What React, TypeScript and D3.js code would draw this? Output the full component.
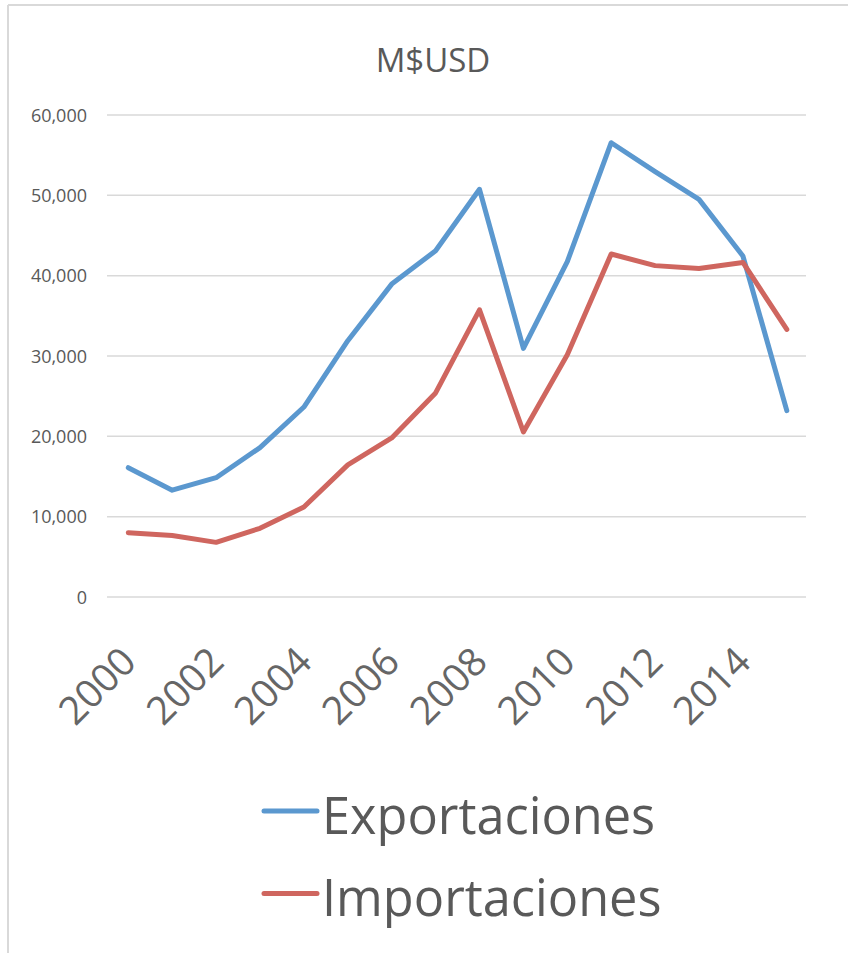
import React from 'react';
import { scaleLinear, scalePoint, line as d3Line, format } from 'd3';

const years = [2000, 2001, 2002, 2003, 2004, 2005, 2006, 2007, 2008, 2009, 2010, 2011, 2012, 2013, 2014, 2015];
const exportaciones = [16100, 13300, 14850, 18600, 23650, 31900, 38950, 43100, 50750, 30950, 41750, 56550, 52950, 49500, 42450, 23200];
const importaciones = [8000, 7650, 6800, 8550, 11200, 16450, 19800, 25400, 35750, 20550, 30150, 42700, 41250, 40900, 41650, 33300];
const yTicks = [0, 10000, 20000, 30000, 40000, 50000, 60000];
const xLabels = [2000, 2002, 2004, 2006, 2008, 2010, 2012, 2014];

const series = [
  { name: 'Exportaciones', values: exportaciones, color: '#5B98CF' },
  { name: 'Importaciones', values: importaciones, color: '#CF665F' },
];

const W = 848;
const H = 953;
const FONT = '"Open Sans", sans-serif';
const TEXT = '#595959';
const GRID = '#d9d9d9';

export default function App() {
  const x = scalePoint<number>().domain(years).range([128.3, 786.8]);
  const y = scaleLinear().domain([0, 60000]).range([597, 115]);
  const fmt = format(',');

  const path = (vals: number[]) =>
    d3Line<number>()
      .x((_, i) => x(years[i])!)
      .y(d => y(d))(vals) || '';

  return (
    <div style={{ position: 'fixed', left: 0, top: 0, width: W, height: H }}>
      <svg width={W} height={H} style={{ display: 'block', background: '#fff' }}>
        {/* chart frame */}
        <line x1={8} x2={W} y1={5} y2={5} stroke={GRID} strokeWidth={2} />
        <line x1={8} x2={8} y1={5} y2={H} stroke={GRID} strokeWidth={2} />

        <text x={433} y={72} textAnchor="middle" fontFamily={FONT} fontSize={33} fill={TEXT}>
          M$USD
        </text>

        {yTicks.map(t => (
          <g key={t}>
            <line x1={107} x2={806} y1={y(t)} y2={y(t)} stroke={GRID} strokeWidth={1.5} />
            <text
              x={87}
              y={y(t) + 6.5}
              textAnchor="end"
              fontFamily={FONT}
              fontSize={18}
              fill={TEXT}
            >
              {fmt(t)}
            </text>
          </g>
        ))}

        {xLabels.map(yr => (
          <text
            key={yr}
            transform={`translate(${x(yr)! + 10},664) rotate(-45)`}
            textAnchor="end"
            fontFamily={FONT}
            fontSize={39}
            fill="#666"
          >
            {yr}
          </text>
        ))}

        {series.map(s => (
          <path
            key={s.name}
            d={path(s.values)}
            fill="none"
            stroke={s.color}
            strokeWidth={5}
            strokeLinejoin="round"
            strokeLinecap="round"
          />
        ))}

        {series.map((s, i) => {
          const ly = 811 + i * 82.5;
          return (
            <g key={s.name}>
              <line x1={264} x2={317} y1={ly} y2={ly} stroke={s.color} strokeWidth={5} strokeLinecap="round" />
              <text x={322} y={ly + 22.5} fontFamily={FONT} fontSize={50.5} fill={TEXT}>
                {s.name}
              </text>
            </g>
          );
        })}
      </svg>
    </div>
  );
}
